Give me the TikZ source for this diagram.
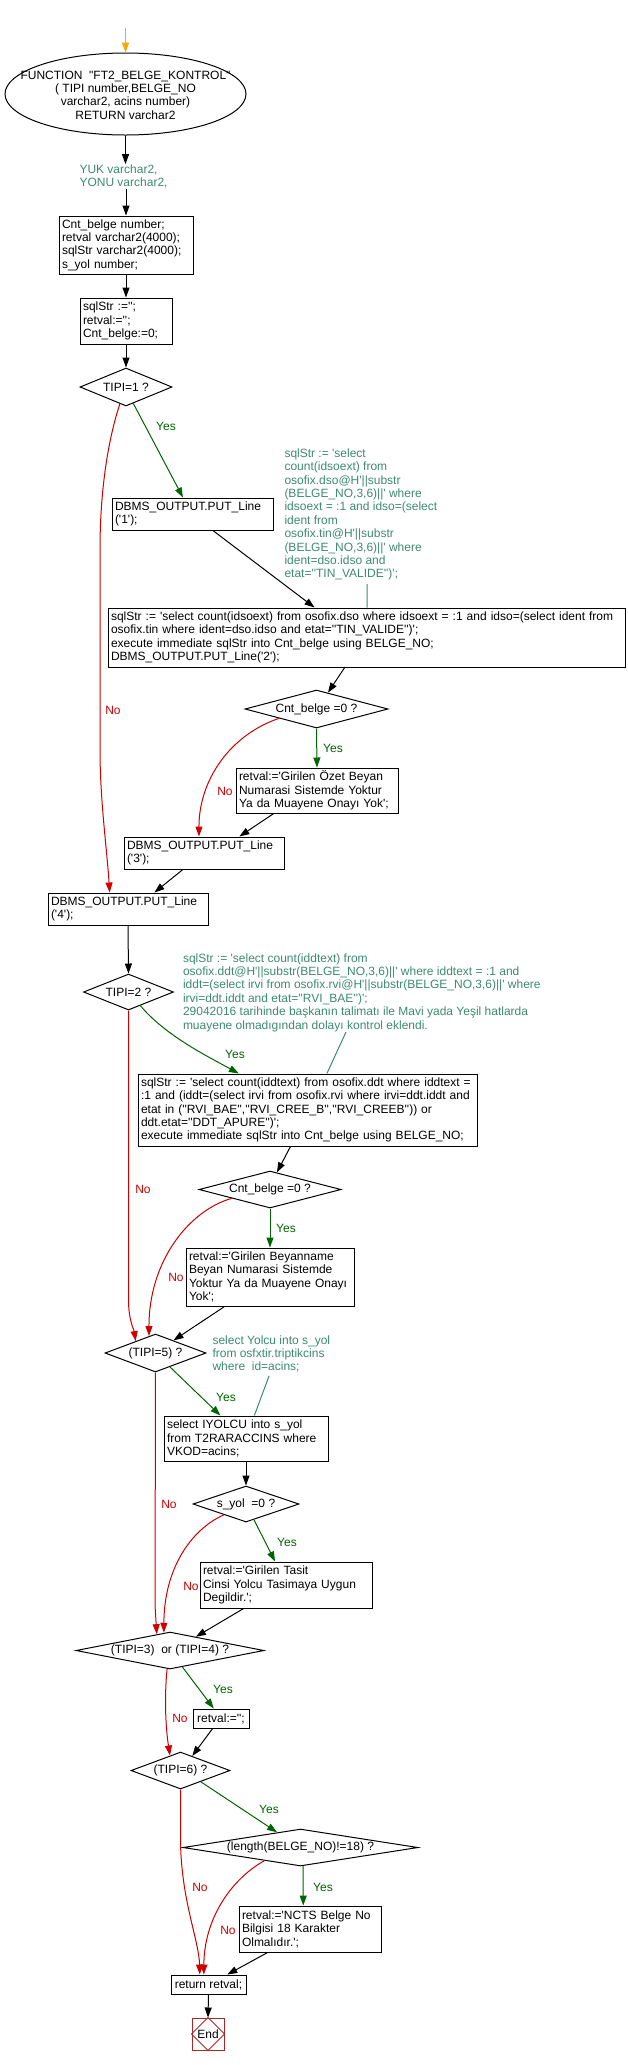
\documentclass[tikz,border=0pt]{standalone}
\usepackage{fontspec}
\setmainfont{Liberation Sans}[Ligatures=TeXOff]
\usetikzlibrary{shapes.geometric,arrows.meta}
\definecolor{yesc}{RGB}{0,100,0}
\definecolor{noc}{RGB}{204,0,0}
\definecolor{annc}{RGB}{60,138,110}
\definecolor{startc}{RGB}{255,165,0}
\definecolor{endc}{RGB}{170,40,40}
\begin{document}
\begin{tikzpicture}[x=1pt,y=-1pt,line width=1pt,
  every node/.style={font=\fontsize{12}{13.4}\selectfont,line width=1pt},
  box/.style={draw,rectangle,align=left,inner xsep=3pt,inner ysep=0pt},
  cbox/.style={draw,rectangle,align=center,inner sep=0pt},
  dec/.style={draw,diamond,inner sep=0pt,align=center},
  annot/.style={text=annc,align=left,inner sep=0pt,anchor=west},
  ylab/.style={text=yesc,inner sep=0pt},
  nlab/.style={text=noc,inner sep=0pt},
  arr/.style={-{Triangle[length=10pt,width=7pt]}},
  annline/.style={draw=annc,line width=1pt}]
\useasboundingbox (0,0) rectangle (628,2065);
% nodes
\coordinate (s0) at (125.5,28);
\node[draw,ellipse,minimum width=241pt,minimum height=82pt,inner sep=0pt] (fn) at (125.5,94) {};
\node[align=center,inner sep=0pt] (fnt) at (125.5,95) {FUNCTION\ \ "FT2\_BELGE\_KONTROL"\\( TIPI number,BELGE\_NO\\varchar2, acins number)\\RETURN varchar2};
\node[annot] (decl) at (79,176.5) {YUK varchar2,\\YONU varchar2,};
\node[box,text width=128pt,minimum height=58pt] (vars) at (126,245) {Cnt\_belge number;\\retval varchar2(4000);\\sqlStr varchar2(4000);\\s\_yol number;};
\node[box,text width=86pt,minimum height=46pt] (init) at (126,321) {sqlStr :='';\\retval:='';\\Cnt\_belge:=0;};
\node[dec,aspect=2.42,minimum width=92pt,minimum height=38pt] (d1) at (126,387) {TIPI=1 ?};
\node[box,text width=155pt,minimum height=32pt] (p1) at (192.5,514) {DBMS\_OUTPUT.PUT\_Line\\('1');};
\node[annot] (n1) at (284,514.5) {sqlStr := 'select\\count(idsoext) from\\osofix.dso@H'||substr\\(BELGE\_NO,3,6)||' where\\idsoext = :1 and idso=(select\\ident from\\osofix.tin@H'||substr\\(BELGE\_NO,3,6)||' where\\ident=dso.idso and\\etat=''TIN\_VALIDE'')';};
\coordinate (n1l) at (367,584);
\node[box,text width=511pt,minimum height=59pt] (q1) at (366.5,637.5) {sqlStr := 'select count(idsoext) from osofix.dso where idsoext = :1 and idso=(select ident from\\osofix.tin where ident=dso.idso and etat=''TIN\_VALIDE'')';\\execute immediate sqlStr into Cnt\_belge using BELGE\_NO;\\DBMS\_OUTPUT.PUT\_Line('2');};
\node[dec,aspect=3.76,minimum width=143pt,minimum height=38pt] (d2) at (316.5,709) {Cnt\_belge =0 ?};
\node[box,text width=156pt,minimum height=45pt] (r1) at (317,790.5) {retval:='Girilen Özet Beyan\\Numarasi Sistemde Yoktur\\Ya da Muayene Onayı Yok';};
\node[box,text width=154pt,minimum height=32pt] (p3) at (204,853) {DBMS\_OUTPUT.PUT\_Line\\('3');};
\node[box,text width=154pt,minimum height=32pt] (p4) at (128,909) {DBMS\_OUTPUT.PUT\_Line\\('4');};
\node[dec,aspect=2.5,minimum width=90pt,minimum height=36pt] (d3) at (128.5,992) {TIPI=2 ?};
\node[annot] (n2) at (182.5,992.5) {sqlStr := 'select count(iddtext) from\\osofix.ddt@H'||substr(BELGE\_NO,3,6)||' where iddtext = :1 and\\iddt=(select irvi from osofix.rvi@H'||substr(BELGE\_NO,3,6)||' where\\irvi=ddt.iddt and etat=''RVI\_BAE'')';\\29042016 tarihinde başkanın talimatı ile Mavi yada Yeşil hatlarda\\muayene olmadıgından dolayı kontrol eklendi.};
\coordinate (n2l) at (346,1032);
\node[box,text width=333pt,minimum height=72pt] (q2) at (307.5,1110) {sqlStr := 'select count(iddtext) from osofix.ddt where iddtext =\\:1 and (iddt=(select irvi from osofix.rvi where irvi=ddt.iddt and\\etat in (''RVI\_BAE'',''RVI\_CREE\_B'',''RVI\_CREEB'')) or\\ddt.etat=''DDT\_APURE'')';\\execute immediate sqlStr into Cnt\_belge using BELGE\_NO;};
\node[dec,aspect=3.84,minimum width=142pt,minimum height=37pt] (d4) at (270,1189.5) {Cnt\_belge =0 ?};
\node[box,text width=162pt,minimum height=58pt] (r2) at (270,1277) {retval:='Girilen Beyanname\\Beyan Numarasi Sistemde\\Yoktur Ya da Muayene Onayı\\Yok';};
\node[dec,aspect=2.66,minimum width=101pt,minimum height=38pt] (d5) at (155.5,1353) {(TIPI=5) ?};
\node[annot] (n3) at (212,1354) {select Yolcu into s\_yol\\from osfxtir.triptikcins\\where\ \ id=acins;};
\coordinate (n3l) at (269,1376);
\node[box,text width=158pt,minimum height=45pt] (q3) at (246,1438.5) {select IYOLCU into s\_yol\\from T2RARACCINS where\\VKOD=acins;};
\node[dec,aspect=2.94,minimum width=106pt,minimum height=36pt] (d6) at (246,1504) {s\_yol\ \ =0 ?};
\node[box,text width=166pt,minimum height=46pt] (r3) at (286,1585) {retval:='Girilen Tasit\\Cinsi Yolcu Tasimaya Uygun\\Degildir.';};
\node[dec,aspect=5.08,minimum width=188pt,minimum height=37pt] (d7) at (170,1650.5) {(TIPI=3)\ \ or (TIPI=4) ?};
\node[cbox,minimum width=56pt,minimum height=19pt] (r4) at (221,1718.5) {retval:='';};
\node[dec,aspect=2.68,minimum width=99pt,minimum height=37pt] (d8) at (180.5,1770.5) {(TIPI=6) ?};
\node[dec,aspect=6.35,minimum width=235pt,minimum height=37pt] (d9) at (300.5,1847.5) {(length(BELGE\_NO)!=18) ?};
\node[box,text width=136pt,minimum height=46pt] (r5) at (310,1929) {retval:='NCTS Belge No\\Bilgisi 18 Karakter\\Olmalıdır.';};
\node[cbox,minimum width=75pt,minimum height=19pt] (ret) at (208.5,1984.5) {return retval;};
\node[draw=endc,minimum width=32pt,minimum height=32pt,inner sep=0pt] (end) at (208,2034) {End};
\draw[endc] (end.north) -- (end.east) -- (end.south) -- (end.west) -- cycle;
% labels
\node[ylab] (y1) at (166,426) {Yes};
\node[nlab] (m1) at (113,710) {No};
\node[ylab] (y2) at (333,748) {Yes};
\node[nlab] (m2) at (225,791) {No};
\node[ylab] (y3) at (235,1054) {Yes};
\node[nlab] (m3) at (143,1189) {No};
\node[ylab] (y4) at (286,1228) {Yes};
\node[nlab] (m4) at (176,1277) {No};
\node[ylab] (y5) at (226,1397) {Yes};
\node[nlab] (m5) at (169,1504) {No};
\node[ylab] (y6) at (287,1542) {Yes};
\node[nlab] (m6) at (191,1586) {No};
\node[ylab] (y7) at (223,1689) {Yes};
\node[nlab] (m7) at (180,1718) {No};
\node[ylab] (y8) at (269,1809) {Yes};
\node[nlab] (m8) at (200,1887) {No};
\node[ylab] (y9) at (323,1887) {Yes};
\node[nlab] (m9) at (228,1930) {No};
% connectors
\draw[arr,startc] (s0) -- (fn.north);
\draw[arr] (fn.south) -- (fn.south |- decl.north);
\draw[arr] (vars.north |- decl.south) -- (vars.north);
\draw[arr] (vars.south) -- (init.north);
\draw[arr] (init.south) -- (d1.north);
\draw[arr,yesc] (d1.-66.4) -- (p1.120.7);
\draw[arr,noc] (d1.-110.6) .. controls (108,440) and (100,490) .. (100,550) -- (100,750) .. controls (100,800) and (107,850) .. (p4.138.4);
\draw[arr] (p1.-39.4) -- (q1.150.2);
\draw[annline] (n1l) -- (q1.89);
\draw[arr] (q1.-126.1) -- (d2.55.9);
\draw[arr,yesc] (d2.south) -- (r1.north);
\draw[arr,noc] (d2.-166.1) .. controls (230,735) and (199,780) .. (p3.107.4);
\draw[arr] (r1.-152.9) -- (p3.25.9);
\draw[arr] (p3.-142.7) -- (p4.32.6);
\draw[arr] (p4.south) -- (d3.north);
\draw[arr,yesc] (d3.-49.4) .. controls (165,1035) and (205,1055) .. (q2.152.6);
\draw[annline] (n2l) -- (q2.62.8);
\draw[arr,noc] (d3.south) -- (128.5,1300) .. controls (128.5,1320) and (134,1330) .. (d5.149);
\draw[arr] (q2.-115.9) -- (d4.68.2);
\draw[arr,yesc] (d4.south) -- (r2.north);
\draw[arr,noc] (d4.-167.1) .. controls (190,1210) and (149,1260) .. (d5.111.4);
\draw[arr] (r2.-147.2) -- (d5.35);
\draw[arr,yesc] (d5.-44) -- (q3.138);
\draw[annline] (n3l) -- (q3.70.4);
\draw[arr] (q3.south) -- (d6.north);
\draw[arr,yesc] (d6.-63.4) -- (r3.115.6);
\draw[arr,noc] (d6.-154.4) .. controls (190,1530) and (164,1570) .. (d7.109.1);
\draw[arr,noc] (d5.south) -- (155,1605) -- (d7.129.3);
\draw[arr] (r3.-151.9) -- (d7.28.5);
\draw[arr,yesc] (d7.-53.3) -- (r4.126.4);
\draw[arr,noc] (d7.-99.3) .. controls (164,1700) and (166,1730) .. (d8.125.7);
\draw[arr] (r4.-130.1) -- (d8.51);
\draw[arr,yesc] (d8.-29.9) -- (d9.147.8);
\draw[arr,noc] (d8.south) -- (180.5,1840) .. controls (181,1900) and (199,1940) .. (ret.131.8);
\draw[arr,yesc] (d9.-82) -- (r5.106.9);
\draw[arr,noc] (d9.-160.7) .. controls (230,1880) and (204,1920) .. (ret.115.3);
\draw[arr] (r5.-151.9) -- (ret.28.5);
\draw[arr] (ret.south) -- (end.north);
\end{tikzpicture}
\end{document}
